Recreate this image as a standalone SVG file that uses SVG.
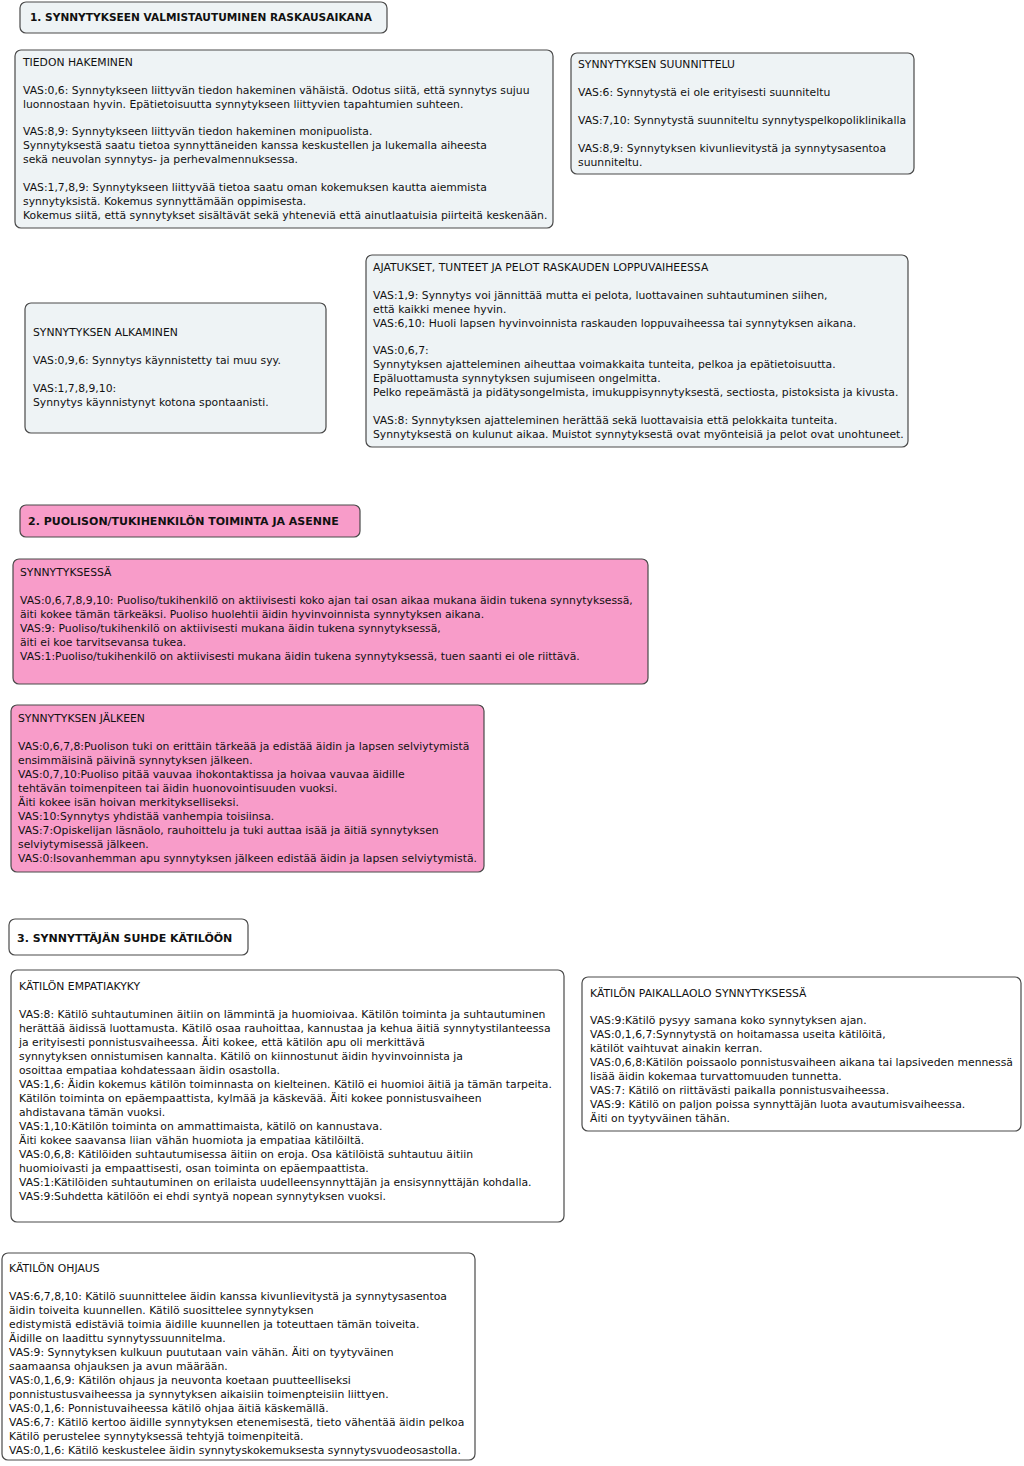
<svg xmlns="http://www.w3.org/2000/svg" width="1024" height="1466" viewBox="0 0 1024 1466">
<style>
.bg{fill:#ffffff}
.grey{fill:#eef3f5;stroke:#4a4a4a;stroke-width:1.2}
.pink{fill:#f89cc9;stroke:#4a4a4a;stroke-width:1.2}
.white{fill:#ffffff;stroke:#4a4a4a;stroke-width:1.2}
text{font-family:"DejaVu Sans",Verdana,sans-serif;font-size:10.8px;fill:#111}
.h{font-weight:bold;font-size:11px}
</style>
<rect class="bg" x="0" y="0" width="1024" height="1466"/>
<g id="connectors"/>
<g id="h1">
<rect class="grey" x="20" y="2" width="367" height="31" rx="6"/>
<text class="h" x="30" y="21" style="font-size:10.6px">1. SYNNYTYKSEEN VALMISTAUTUMINEN RASKAUSAIKANA</text>
</g>
<g id="tiedon">
<rect class="grey" x="15" y="50" width="538" height="178" rx="6"/>
<text x="23" y="66">TIEDON HAKEMINEN</text>
<text x="23" y="94">VAS:0,6: Synnytykseen liittyvän tiedon hakeminen vähäistä. Odotus siitä, että synnytys sujuu</text>
<text x="23" y="108">luonnostaan hyvin. Epätietoisuutta synnytykseen liittyvien tapahtumien suhteen.</text>
<text x="23" y="135">VAS:8,9: Synnytykseen liittyvän tiedon hakeminen monipuolista.</text>
<text x="23" y="149">Synnytyksestä saatu tietoa synnyttäneiden kanssa keskustellen ja lukemalla aiheesta</text>
<text x="23" y="163">sekä neuvolan synnytys- ja perhevalmennuksessa.</text>
<text x="23" y="191">VAS:1,7,8,9: Synnytykseen liittyvää tietoa saatu oman kokemuksen kautta aiemmista</text>
<text x="23" y="205">synnytyksistä. Kokemus synnyttämään oppimisesta.</text>
<text x="23" y="219">Kokemus siitä, että synnytykset sisältävät sekä yhteneviä että ainutlaatuisia piirteitä keskenään.</text>
</g>
<g id="suunnittelu">
<rect class="grey" x="571" y="53" width="343" height="121" rx="6"/>
<text x="578" y="68">SYNNYTYKSEN SUUNNITTELU</text>
<text x="578" y="96">VAS:6: Synnytystä ei ole erityisesti suunniteltu</text>
<text x="578" y="124">VAS:7,10: Synnytystä suunniteltu synnytyspelkopoliklinikalla</text>
<text x="578" y="152">VAS:8,9: Synnytyksen kivunlievitystä ja synnytysasentoa</text>
<text x="578" y="166">suunniteltu.</text>
</g>
<g id="alkaminen">
<rect class="grey" x="25" y="303" width="301" height="130" rx="6"/>
<text x="33" y="336">SYNNYTYKSEN ALKAMINEN</text>
<text x="33" y="364">VAS:0,9,6: Synnytys käynnistetty tai muu syy.</text>
<text x="33" y="392">VAS:1,7,8,9,10:</text>
<text x="33" y="406">Synnytys käynnistynyt kotona spontaanisti.</text>
</g>
<g id="ajatukset">
<rect class="grey" x="366" y="255" width="542" height="192" rx="6"/>
<text x="373" y="271">AJATUKSET, TUNTEET JA PELOT RASKAUDEN LOPPUVAIHEESSA</text>
<text x="373" y="299">VAS:1,9: Synnytys voi jännittää mutta ei pelota, luottavainen suhtautuminen siihen,</text>
<text x="373" y="313">että kaikki menee hyvin.</text>
<text x="373" y="327">VAS:6,10: Huoli lapsen hyvinvoinnista raskauden loppuvaiheessa tai synnytyksen aikana.</text>
<text x="373" y="354">VAS:0,6,7:</text>
<text x="373" y="368">Synnytyksen ajatteleminen aiheuttaa voimakkaita tunteita, pelkoa ja epätietoisuutta.</text>
<text x="373" y="382">Epäluottamusta synnytyksen sujumiseen ongelmitta.</text>
<text x="373" y="396">Pelko repeämästä ja pidätysongelmista, imukuppisynnytyksestä, sectiosta, pistoksista ja kivusta.</text>
<text x="373" y="424">VAS:8: Synnytyksen ajatteleminen herättää sekä luottavaisia että pelokkaita tunteita.</text>
<text x="373" y="438">Synnytyksestä on kulunut aikaa. Muistot synnytyksestä ovat myönteisiä ja pelot ovat unohtuneet.</text>
</g>
<g id="h2">
<rect class="pink" x="20" y="505" width="340" height="32" rx="6"/>
<text class="h" x="28" y="525">2. PUOLISON/TUKIHENKILÖN TOIMINTA JA ASENNE</text>
</g>
<g id="synnytyksessa">
<rect class="pink" x="13" y="559" width="635" height="125" rx="6"/>
<text x="20" y="576">SYNNYTYKSESSÄ</text>
<text x="20" y="604">VAS:0,6,7,8,9,10: Puoliso/tukihenkilö on aktiivisesti koko ajan tai osan aikaa mukana äidin tukena synnytyksessä,</text>
<text x="20" y="618">äiti kokee tämän tärkeäksi. Puoliso huolehtii äidin hyvinvoinnista synnytyksen aikana.</text>
<text x="20" y="632">VAS:9: Puoliso/tukihenkilö on aktiivisesti mukana äidin tukena synnytyksessä,</text>
<text x="20" y="646">äiti ei koe tarvitsevansa tukea.</text>
<text x="20" y="660">VAS:1:Puoliso/tukihenkilö on aktiivisesti mukana äidin tukena synnytyksessä, tuen saanti ei ole riittävä.</text>
</g>
<g id="jalkeen">
<rect class="pink" x="11" y="705" width="473" height="167" rx="6"/>
<text x="18" y="722">SYNNYTYKSEN JÄLKEEN</text>
<text x="18" y="750">VAS:0,6,7,8:Puolison tuki on erittäin tärkeää ja edistää äidin ja lapsen selviytymistä</text>
<text x="18" y="764">ensimmäisinä päivinä synnytyksen jälkeen.</text>
<text x="18" y="778">VAS:0,7,10:Puoliso pitää vauvaa ihokontaktissa ja hoivaa vauvaa äidille</text>
<text x="18" y="792">tehtävän toimenpiteen tai äidin huonovointisuuden vuoksi.</text>
<text x="18" y="806">Äiti kokee isän hoivan merkitykselliseksi.</text>
<text x="18" y="820">VAS:10:Synnytys yhdistää vanhempia toisiinsa.</text>
<text x="18" y="834">VAS:7:Opiskelijan läsnäolo, rauhoittelu ja tuki auttaa isää ja äitiä synnytyksen</text>
<text x="18" y="848">selviytymisessä jälkeen.</text>
<text x="18" y="862">VAS:0:Isovanhemman apu synnytyksen jälkeen edistää äidin ja lapsen selviytymistä.</text>
</g>
<g id="h3">
<rect class="white" x="9" y="919" width="239" height="36" rx="6"/>
<text class="h" x="17" y="942">3. SYNNYTTÄJÄN SUHDE KÄTILÖÖN</text>
</g>
<g id="empatiakyky">
<rect class="white" x="11" y="970" width="553" height="252" rx="6"/>
<text x="19" y="990">KÄTILÖN EMPATIAKYKY</text>
<text x="19" y="1018">VAS:8: Kätilö suhtautuminen äitiin on lämmintä ja huomioivaa. Kätilön toiminta ja suhtautuminen</text>
<text x="19" y="1032">herättää äidissä luottamusta. Kätilö osaa rauhoittaa, kannustaa ja kehua äitiä synnytystilanteessa</text>
<text x="19" y="1046">ja erityisesti ponnistusvaiheessa. Äiti kokee, että kätilön apu oli merkittävä</text>
<text x="19" y="1060">synnytyksen onnistumisen kannalta. Kätilö on kiinnostunut äidin hyvinvoinnista ja</text>
<text x="19" y="1074">osoittaa empatiaa kohdatessaan äidin osastolla.</text>
<text x="19" y="1088">VAS:1,6: Äidin kokemus kätilön toiminnasta on kielteinen. Kätilö ei huomioi äitiä ja tämän tarpeita.</text>
<text x="19" y="1102">Kätilön toiminta on epäempaattista, kylmää ja käskevää. Äiti kokee ponnistusvaiheen</text>
<text x="19" y="1116">ahdistavana tämän vuoksi.</text>
<text x="19" y="1130">VAS:1,10:Kätilön toiminta on ammattimaista, kätilö on kannustava.</text>
<text x="19" y="1144">Äiti kokee saavansa liian vähän huomiota ja empatiaa kätilöiltä.</text>
<text x="19" y="1158">VAS:0,6,8: Kätilöiden suhtautumisessa äitiin on eroja. Osa kätilöistä suhtautuu äitiin</text>
<text x="19" y="1172">huomioivasti ja empaattisesti, osan toiminta on epäempaattista.</text>
<text x="19" y="1186">VAS:1:Kätilöiden suhtautuminen on erilaista uudelleensynnyttäjän ja ensisynnyttäjän kohdalla.</text>
<text x="19" y="1200">VAS:9:Suhdetta kätilöön ei ehdi syntyä nopean synnytyksen vuoksi.</text>
</g>
<g id="paikallaolo">
<rect class="white" x="582" y="977" width="439" height="154" rx="6"/>
<text x="590" y="997">KÄTILÖN PAIKALLAOLO SYNNYTYKSESSÄ</text>
<text x="590" y="1024">VAS:9:Kätilö pysyy samana koko synnytyksen ajan.</text>
<text x="590" y="1038">VAS:0,1,6,7:Synnytystä on hoitamassa useita kätilöitä,</text>
<text x="590" y="1052">kätilöt vaihtuvat ainakin kerran.</text>
<text x="590" y="1066">VAS:0,6,8:Kätilön poissaolo ponnistusvaiheen aikana tai lapsiveden mennessä</text>
<text x="590" y="1080">lisää äidin kokemaa turvattomuuden tunnetta.</text>
<text x="590" y="1094">VAS:7: Kätilö on riittävästi paikalla ponnistusvaiheessa.</text>
<text x="590" y="1108">VAS:9: Kätilö on paljon poissa synnyttäjän luota avautumisvaiheessa.</text>
<text x="590" y="1122">Äiti on tyytyväinen tähän.</text>
</g>
<g id="ohjaus">
<rect class="white" x="2" y="1253" width="473" height="207" rx="6"/>
<text x="9" y="1272">KÄTILÖN OHJAUS</text>
<text x="9" y="1300">VAS:6,7,8,10: Kätilö suunnittelee äidin kanssa kivunlievitystä ja synnytysasentoa</text>
<text x="9" y="1314">äidin toiveita kuunnellen. Kätilö suosittelee synnytyksen</text>
<text x="9" y="1328">edistymistä edistäviä toimia äidille kuunnellen ja toteuttaen tämän toiveita.</text>
<text x="9" y="1342">Äidille on laadittu synnytyssuunnitelma.</text>
<text x="9" y="1356">VAS:9: Synnytyksen kulkuun puututaan vain vähän. Äiti on tyytyväinen</text>
<text x="9" y="1370">saamaansa ohjauksen ja avun määrään.</text>
<text x="9" y="1384">VAS:0,1,6,9: Kätilön ohjaus ja neuvonta koetaan puutteelliseksi</text>
<text x="9" y="1398">ponnistustusvaiheessa ja synnytyksen aikaisiin toimenpteisiin liittyen.</text>
<text x="9" y="1412">VAS:0,1,6: Ponnistuvaiheessa kätilö ohjaa äitiä käskemällä.</text>
<text x="9" y="1426">VAS:6,7: Kätilö kertoo äidille synnytyksen etenemisestä, tieto vähentää äidin pelkoa</text>
<text x="9" y="1440">Kätilö perustelee synnytyksessä tehtyjä toimenpiteitä.</text>
<text x="9" y="1454">VAS:0,1,6: Kätilö keskustelee äidin synnytyskokemuksesta synnytysvuodeosastolla.</text>
</g>
</svg>
